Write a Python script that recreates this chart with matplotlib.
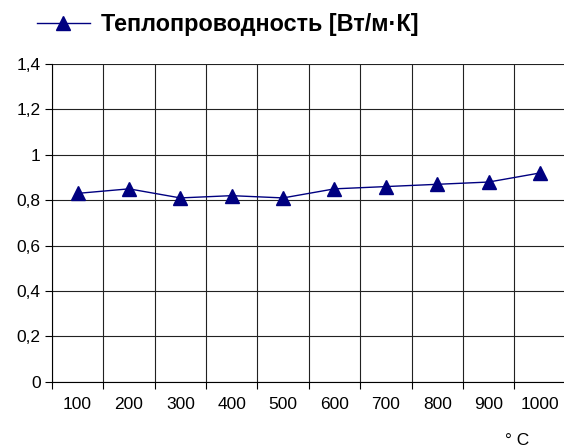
import matplotlib
matplotlib.use("Agg")
import matplotlib.pyplot as plt
from matplotlib.ticker import FixedLocator, NullFormatter, FuncFormatter

categories = ["100", "200", "300", "400", "500", "600", "700", "800", "900", "1000"]
values = [0.83, 0.85, 0.81, 0.82, 0.81, 0.85, 0.86, 0.87, 0.88, 0.92]
series_name = "Теплопроводность [Вт/м·К]"
y_ticks = [0, 0.2, 0.4, 0.6, 0.8, 1.0, 1.2, 1.4]
x_unit = "° C"

plt.rcParams['font.family'] = ['Liberation Sans', 'DejaVu Sans']

fig = plt.figure(figsize=(5.64, 4.48), dpi=100)
ax = fig.add_axes([0.092, 0.148, 0.911, 0.709])

color = "#000080"
x = list(range(len(categories)))
line, = ax.plot(x, values, color=color, lw=1.0, marker="^", markersize=10,
                markerfacecolor=color, markeredgecolor=color, zorder=3, clip_on=False)

ax.set_xlim(-0.5, len(categories) - 0.5)
ax.set_ylim(0, 1.4)

ax.set_yticks(y_ticks)
ax.yaxis.set_major_formatter(FuncFormatter(lambda v, p: ("%g" % round(v, 1)).replace(".", ",")))
ax.xaxis.set_major_locator(FixedLocator([i - 0.5 for i in range(len(categories) + 1)]))
ax.xaxis.set_major_formatter(NullFormatter())
ax.xaxis.set_minor_locator(FixedLocator(x))
ax.set_xticklabels(categories, minor=True)
ax.tick_params(axis='x', which='minor', length=0, pad=11, labelsize=12.5)
ax.tick_params(axis='x', which='major', length=5, direction='out', width=0.8)
ax.tick_params(axis='y', length=5, direction='out', width=0.8, labelsize=12.5, pad=3)

ax.grid(True, which='major', axis='both', color='#222222', lw=0.8)
ax.set_axisbelow(True)
for s in ['top', 'right']:
    ax.spines[s].set_visible(False)
for s in ['left', 'bottom']:
    ax.spines[s].set_color('black')
    ax.spines[s].set_linewidth(0.8)

fig.text(517 / 564, 1 - 440 / 448, x_unit, fontsize=12.5, ha='center', va='center')

leg = fig.legend([line], [series_name], loc='center left', bbox_to_anchor=(0.065, 1 - 24.5 / 448),
                 frameon=False, prop={'weight': 'bold', 'size': 16.8}, handlelength=2.3,
                 handletextpad=0.45, borderaxespad=0, borderpad=0)

fig.savefig("out.png", dpi=100)
